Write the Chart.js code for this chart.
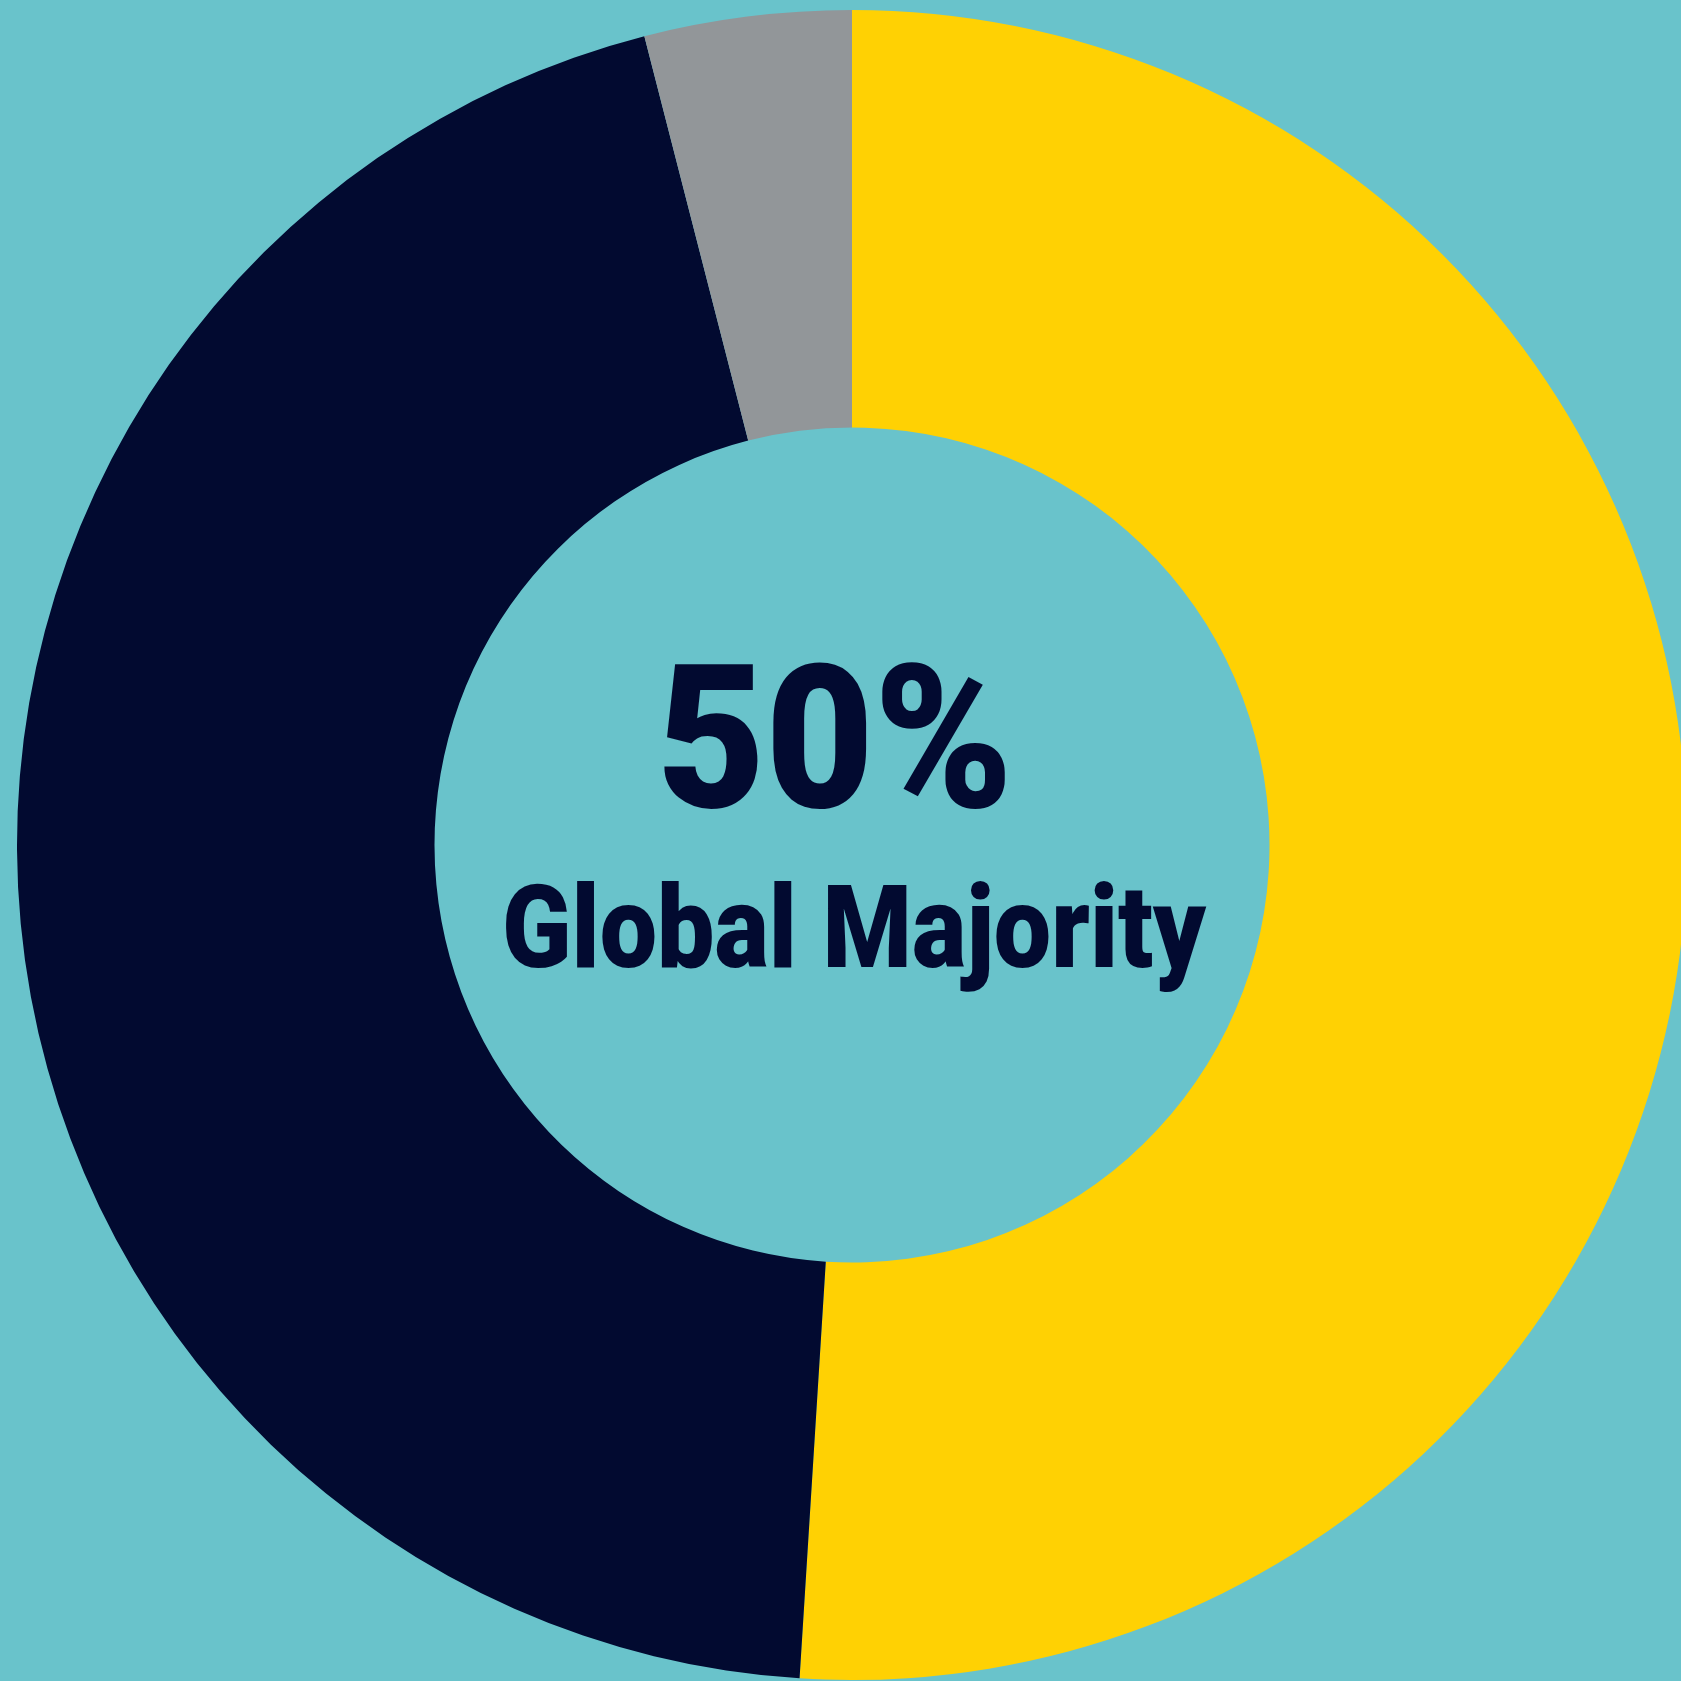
<!DOCTYPE html>
<html>
<head>
<meta charset="utf-8">
<script src="https://cdn.jsdelivr.net/npm/chart.js@4/dist/chart.umd.min.js"></script>
<style>
  html, body { margin: 0; padding: 0; width: 1681px; height: 1681px; overflow: hidden; background: #69c3cb; }
  #myChart { position: absolute; left: 17px; top: 10px; }
</style>
</head>
<body>
<canvas id="myChart" width="1670" height="1670"></canvas>
<script>
"use strict";

// shares, clockwise from the top
var categories = ["Global Majority", "White", "Not stated"];
var shares = [51, 45, 4];
var sliceColors = ["#ffd103", "#020a30", "#929699"];

// centre label
var bigLabel = "50%";
var smallLabel = "Global Majority";

// draw a line of text squeezed to a given width (the original uses a condensed DIN face)
function fitText(ctx, text, x, y, width) {
    var w = ctx.measureText(text).width;
    ctx.save();
    ctx.translate(x, y);
    ctx.scale(width / w, 1);
    ctx.fillText(text, 0, 0);
    ctx.restore();
}

var centreText = {
    id: 'centreText',
    afterDraw: function (chart) {
        var ctx = chart.ctx;
        var area = chart.chartArea;
        var cx = (area.left + area.right) / 2;
        var cy = (area.top + area.bottom) / 2;
        ctx.save();
        ctx.fillStyle = "#020a30";
        ctx.textAlign = 'center';
        ctx.textBaseline = 'alphabetic';
        ctx.font = "900 200px Roboto, sans-serif";
        fitText(ctx, bigLabel, cx - 17, cy - 38, 356);
        ctx.font = "900 115px Roboto, sans-serif";
        fitText(ctx, smallLabel, cx + 2, cy + 122, 704);
        ctx.restore();
    }
};

var ctx = document.getElementById('myChart');

var myChart = new Chart(ctx, {
    type: 'doughnut',
    data: {
        labels: categories,
        datasets: [
            {
                data: shares,
                backgroundColor: sliceColors,
                borderWidth: 0,
                hoverOffset: 0
            }
        ]
    },
    options: {
        responsive: false,
        animation: false,
        cutout: '50%',
        layout: { padding: 0 },
        plugins: {
            legend: { display: false },
            tooltip: { enabled: false }
        }
    },
    plugins: [centreText]
});
</script>
</body>
</html>
